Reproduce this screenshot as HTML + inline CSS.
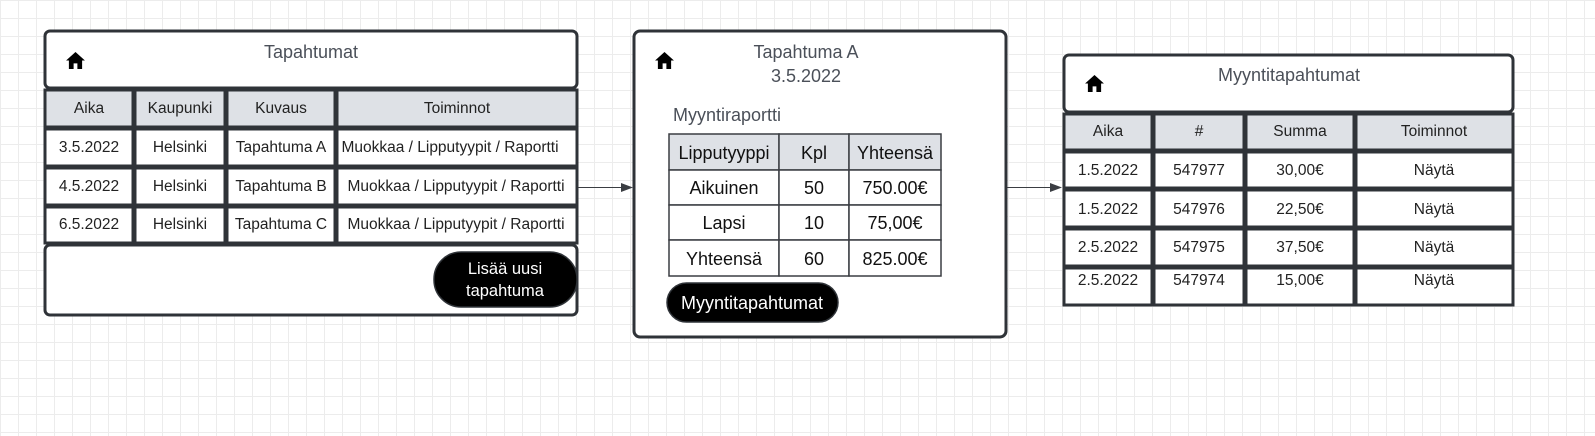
<!DOCTYPE html>
<html><head><meta charset="utf-8"><style>
html,body{margin:0;padding:0;width:1595px;height:436px;overflow:hidden;background:#fff;
background-image:linear-gradient(#ececec 1px,transparent 1px),linear-gradient(90deg,#ececec 1px,transparent 1px);background-size:18px 18px;}
svg{position:absolute;left:0;top:0;font-family:"Liberation Sans",sans-serif;}
</style></head><body>
<svg width="1595" height="436" viewBox="0 0 1595 436">
<defs>
<symbol id="home" viewBox="0 0 20 18"><path d="M10 0 L20 9 L17 9 L17 18 L12 18 L12 12 L8 12 L8 18 L3 18 L3 9 L0 9 Z" fill="#000"/></symbol>
</defs>
<g stroke="#2f3338" stroke-width="3" fill="#fff">
<rect x="45" y="31" width="532" height="57" rx="5"/>
<rect x="45" y="90" width="88" height="37" fill="#dee1e6"/><rect x="135" y="90" width="90" height="37" fill="#dee1e6"/><rect x="227" y="90" width="108" height="37" fill="#dee1e6"/><rect x="337" y="90" width="240" height="37" fill="#dee1e6"/>
<rect x="45" y="129" width="88" height="37"/><rect x="135" y="129" width="90" height="37"/><rect x="227" y="129" width="108" height="37"/><rect x="337" y="129" width="240" height="37"/>
<rect x="45" y="168" width="88" height="37"/><rect x="135" y="168" width="90" height="37"/><rect x="227" y="168" width="108" height="37"/><rect x="337" y="168" width="240" height="37"/>
<rect x="45" y="207" width="88" height="36"/><rect x="135" y="207" width="90" height="36"/><rect x="227" y="207" width="108" height="36"/><rect x="337" y="207" width="240" height="36"/>
<rect x="45" y="245" width="532" height="70" rx="5"/>
<rect x="634" y="31" width="372" height="306" rx="6"/>
<rect x="1064" y="55" width="449" height="57" rx="5"/>
<rect x="1064" y="114" width="88" height="36" fill="#dee1e6"/><rect x="1154" y="114" width="90" height="36" fill="#dee1e6"/><rect x="1246" y="114" width="108" height="36" fill="#dee1e6"/><rect x="1356" y="114" width="157" height="36" fill="#dee1e6"/>
<rect x="1064" y="152" width="88" height="36"/><rect x="1154" y="152" width="90" height="36"/><rect x="1246" y="152" width="108" height="36"/><rect x="1356" y="152" width="157" height="36"/>
<rect x="1064" y="190" width="88" height="37"/><rect x="1154" y="190" width="90" height="37"/><rect x="1246" y="190" width="108" height="37"/><rect x="1356" y="190" width="157" height="37"/>
<rect x="1064" y="229" width="88" height="37"/><rect x="1154" y="229" width="90" height="37"/><rect x="1246" y="229" width="108" height="37"/><rect x="1356" y="229" width="157" height="37"/>
<rect x="1064" y="268" width="88" height="37"/><rect x="1154" y="268" width="90" height="37"/><rect x="1246" y="268" width="108" height="37"/><rect x="1356" y="268" width="157" height="37"/>
</g>
<g stroke="#3a3d42" stroke-width="1.5" fill="#fff">
<rect x="669" y="134" width="110" height="36" fill="#dee1e6"/><rect x="779" y="134" width="70" height="36" fill="#dee1e6"/><rect x="849" y="134" width="92" height="36" fill="#dee1e6"/>
<rect x="669" y="170" width="110" height="35"/><rect x="779" y="170" width="70" height="35"/><rect x="849" y="170" width="92" height="35"/>
<rect x="669" y="205" width="110" height="35"/><rect x="779" y="205" width="70" height="35"/><rect x="849" y="205" width="92" height="35"/>
<rect x="669" y="240" width="110" height="36"/><rect x="779" y="240" width="70" height="36"/><rect x="849" y="240" width="92" height="36"/>
</g>
<rect x="434" y="252" width="143" height="55" rx="27" fill="#000" stroke="#2f3338" stroke-width="1.5"/>
<rect x="667" y="283" width="171" height="39" rx="19.5" fill="#000" stroke="#2f3338" stroke-width="1.5"/>
<g stroke="#3a3d42" stroke-width="1"><line x1="578" y1="187.5" x2="624" y2="187.5"/><line x1="1007" y1="187.5" x2="1053" y2="187.5"/></g>
<path d="M621 183 L633 187.5 L621 192 Z" fill="#3a3d42"/><path d="M1050 183 L1062 187.5 L1050 192 Z" fill="#3a3d42"/>
<use href="#home" x="66" y="52" width="19" height="17"/>
<use href="#home" x="655" y="52" width="19" height="17"/>
<use href="#home" x="1085" y="75" width="19" height="17"/>
<g fill="#4b5059" font-size="18" text-anchor="middle">
<text x="311" y="58">Tapahtumat</text>
<text x="806" y="58">Tapahtuma A</text>
<text x="806" y="82">3.5.2022</text>
<text x="1289" y="81">Myyntitapahtumat</text>
<text x="673" y="121" text-anchor="start">Myyntiraportti</text>
</g>
<g fill="#222" font-size="15.5" text-anchor="middle">
<text x="89" y="113">Aika</text><text x="180" y="113">Kaupunki</text><text x="281" y="113">Kuvaus</text><text x="457" y="113">Toiminnot</text>
<text x="89" y="152">3.5.2022</text><text x="180" y="152">Helsinki</text><text x="281" y="152">Tapahtuma A</text><text x="450" y="152">Muokkaa / Lipputyypit / Raportti</text>
<text x="89" y="191">4.5.2022</text><text x="180" y="191">Helsinki</text><text x="281" y="191">Tapahtuma B</text><text x="456" y="191">Muokkaa / Lipputyypit / Raportti</text>
<text x="89" y="229">6.5.2022</text><text x="180" y="229">Helsinki</text><text x="281" y="229">Tapahtuma C</text><text x="456" y="229">Muokkaa / Lipputyypit / Raportti</text>
<text x="1108" y="136">Aika</text><text x="1199" y="136">#</text><text x="1300" y="136">Summa</text><text x="1434" y="136">Toiminnot</text>
<text x="1108" y="175">1.5.2022</text><text x="1199" y="175">547977</text><text x="1300" y="175">30,00€</text><text x="1434" y="175">Näytä</text>
<text x="1108" y="214">1.5.2022</text><text x="1199" y="214">547976</text><text x="1300" y="214">22,50€</text><text x="1434" y="214">Näytä</text>
<text x="1108" y="252">2.5.2022</text><text x="1199" y="252">547975</text><text x="1300" y="252">37,50€</text><text x="1434" y="252">Näytä</text>
<text x="1108" y="285">2.5.2022</text><text x="1199" y="285">547974</text><text x="1300" y="285">15,00€</text><text x="1434" y="285">Näytä</text>
</g>
<g fill="#111" font-size="18" text-anchor="middle">
<text x="724" y="159">Lipputyyppi</text><text x="814" y="159">Kpl</text><text x="895" y="159">Yhteensä</text>
<text x="724" y="194">Aikuinen</text><text x="814" y="194">50</text><text x="895" y="194">750.00€</text>
<text x="724" y="229">Lapsi</text><text x="814" y="229">10</text><text x="895" y="229">75,00€</text>
<text x="724" y="265">Yhteensä</text><text x="814" y="265">60</text><text x="895" y="265">825.00€</text>
</g>
<g fill="#fff" text-anchor="middle">
<text x="505" y="274" font-size="16.5">Lisää uusi</text><text x="505" y="296" font-size="16.5">tapahtuma</text>
<text x="752" y="309" font-size="18">Myyntitapahtumat</text>
</g>
</svg>
</body></html>
